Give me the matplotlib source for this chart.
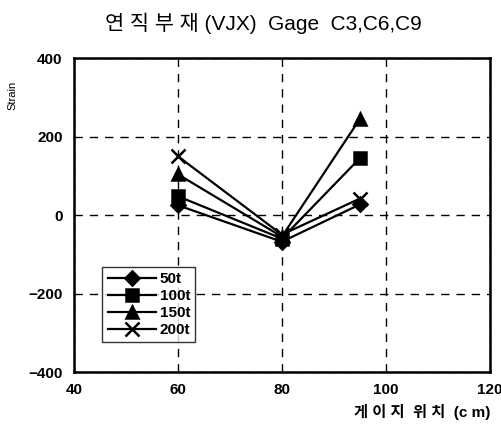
import matplotlib
matplotlib.use("Agg")
from matplotlib import pyplot as plt

plt.rcParams['font.family'] = ['Liberation Sans', 'Noto Sans CJK KR', 'DejaVu Sans']

#gage positions (cm)
x = [60, 80, 95]
#strain per load step
s50 = [25, -68, 27]
s100 = [48, -60, 145]
s150 = [104, -55, 245]
s200 = [150, -50, 42]
labels = ['50t', '100t', '150t', '200t']
markers = ['D', 's', '^', 'x']

fig = plt.figure(figsize=(5.02, 4.24), dpi=100)
ax = fig.add_axes([0.147, 0.1226, 0.829, 0.7404])

series = [s50, s100, s150, s200]
for i in range(len(series)):
  ms = 9
  if markers[i] == 'D':
    ms = 7
  if markers[i] == 'x':
    ms = 10
  ax.plot(x, series[i], 'k-', marker=markers[i], markersize=ms, lw=1.6,
          markeredgewidth=1.8, label=labels[i])

ax.set_xlim(40, 120)
ax.set_ylim(-400, 400)
ax.set_xticks([40, 60, 80, 100, 120])
ax.set_yticks([-400, -200, 0, 200, 400])
ax.grid(True, color='black', linestyle=(0, (6, 5)), lw=1.0)
for sp in ax.spines.values():
  sp.set_linewidth(1.8)
ax.tick_params(length=0, labelsize=11, pad=8)
for t in ax.get_xticklabels() + ax.get_yticklabels():
  t.set_fontweight('bold')

fig.text(0.525, 0.945, '연 직 부 재 (VJX)  Gage  C3,C6,C9', ha='center', va='center',
         fontsize=15)
fig.text(0.976, 0.028, '게 이 지  위 치  (c m)', ha='right', va='center', fontsize=11,
         fontweight='bold')
fig.text(0.025, 0.775, 'Strain', rotation=90, ha='center', va='center', fontsize=8)

leg = ax.legend(loc='lower left', bbox_to_anchor=(0.05, 0.07), frameon=True,
                fancybox=False, edgecolor='black', fontsize=11, handlelength=3.2,
                labelspacing=0.2, borderpad=0.35, handletextpad=0.2)
leg.get_frame().set_linewidth(1.0)
for t in leg.get_texts():
  t.set_fontweight('bold')

plt.savefig('out.png', dpi=100)
plt.close()
